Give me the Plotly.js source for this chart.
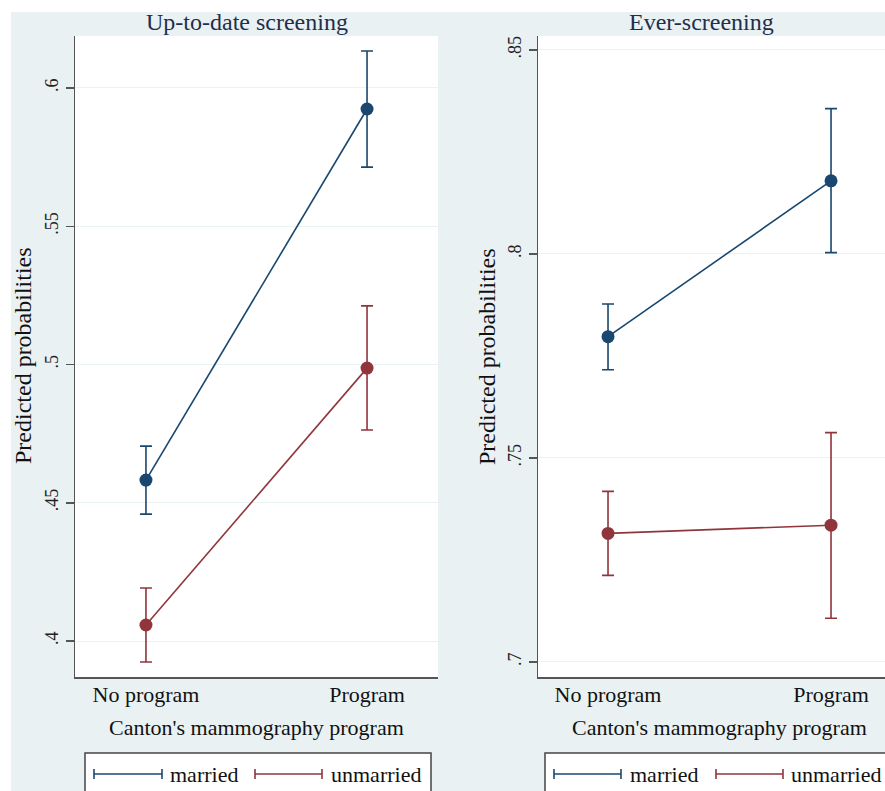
<!DOCTYPE html>
<html>
<head>
<meta charset="utf-8">
<script src="https://cdn.plot.ly/plotly-3.0.1.min.js"></script>
<style>html,body{margin:0;padding:0;background:#fff;}#chart{width:885px;height:791px;}</style>
</head>
<body>
<div id="chart"></div>
<script>
// ---- data ----
const categories = ['No program', 'Program'];
const seriesNames = ['married', 'unmarried'];

// Up-to-date screening
const upMarried      = [0.4582, 0.5924];
const upMarriedLo    = [0.4459, 0.5714];
const upMarriedHi    = [0.4705, 0.6134];
const upUnmarried    = [0.4058, 0.4987];
const upUnmarriedLo  = [0.3924, 0.4763];
const upUnmarriedHi  = [0.4192, 0.5212];

// Ever-screening
const evMarried      = [0.7797, 0.8179];
const evMarriedLo    = [0.7716, 0.8003];
const evMarriedHi    = [0.7877, 0.8356];
const evUnmarried    = [0.7315, 0.7335];
const evUnmarriedLo  = [0.7212, 0.7107];
const evUnmarriedHi  = [0.7418, 0.7562];

const upTickVals = [0.4, 0.45, 0.5, 0.55, 0.6];
const upTickText = ['.4', '.45', '.5', '.55', '.6'];
const evTickVals = [0.7, 0.75, 0.8, 0.85];
const evTickText = ['.7', '.75', '.8', '.85'];

const panelTitles = ['Up-to-date screening', 'Ever-screening'];
const yTitle = 'Predicted probabilities';
const xTitle = "Canton's mammography program";

// ---- styling ----
const W = 885, H = 791;
const BLUE = '#1a476f', RED = '#90353b';
const BAND = '#e9f1f3';
const FONT = 'Liberation Serif, Times New Roman, serif';
const px = v => v / W;
const py = v => 1 - v / H;

function trace(vals, lo, hi, color, xa, ya, name) {
  return {
    type: 'scatter', mode: 'lines+markers', name: name,
    x: categories, y: vals, xaxis: xa, yaxis: ya,
    line: {color: color, width: 1.6},
    marker: {color: color, size: 13, symbol: 'circle'},
    error_y: {type: 'data', symmetric: false,
      array: hi.map((h, i) => h - vals[i]),
      arrayminus: lo.map((l, i) => vals[i] - l),
      color: color, thickness: 1.6, width: 6},
    showlegend: false
  };
}

const data = [
  trace(upMarried, upMarriedLo, upMarriedHi, BLUE, 'x', 'y', seriesNames[0]),
  trace(upUnmarried, upUnmarriedLo, upUnmarriedHi, RED, 'x', 'y', seriesNames[1]),
  trace(evMarried, evMarriedLo, evMarriedHi, BLUE, 'x2', 'y2', seriesNames[0]),
  trace(evUnmarried, evUnmarriedLo, evUnmarriedHi, RED, 'x2', 'y2', seriesNames[1])
];

const xCommon = {
  type: 'category', showgrid: false, zeroline: false,
  showline: true, linecolor: '#555', linewidth: 1.5,
  ticks: '', tickfont: {family: FONT, size: 22, color: '#111'},
  ticklabelstandoff: -3, fixedrange: true
};
const yCommon = {
  showgrid: true, gridcolor: '#eaf2f4', gridwidth: 1, zeroline: false,
  showline: true, linecolor: '#555', linewidth: 1.5,
  ticks: 'outside', ticklen: 8, tickwidth: 1.5, tickcolor: '#555',
  tickangle: -90, tickmode: 'array',
  tickfont: {family: FONT, size: 18, color: '#222'}, fixedrange: true
};

const yDom = [py(677), py(36)];

const layout = {
  width: W, height: H,
  margin: {l: 0, r: 0, t: 0, b: 0},
  paper_bgcolor: BAND, plot_bgcolor: '#ffffff',
  showlegend: false,
  xaxis: Object.assign({}, xCommon, {domain: [px(75), px(438)], range: [-0.321, 1.321], anchor: 'y'}),
  yaxis: Object.assign({}, yCommon, {domain: yDom, range: [0.387, 0.6188], tickvals: upTickVals, ticktext: upTickText, anchor: 'x'}),
  xaxis2: Object.assign({}, xCommon, {domain: [px(538), 1], range: [-0.314, 1.242], anchor: 'y2'}),
  yaxis2: Object.assign({}, yCommon, {domain: yDom, range: [0.6963, 0.8534], tickvals: evTickVals, ticktext: evTickText, anchor: 'x2'}),
  shapes: [],
  annotations: []
};

// white margins outside the Stata graph region
layout.shapes.push({type: 'rect', xref: 'paper', yref: 'paper', x0: 0, x1: 1, y0: py(12), y1: 1, fillcolor: '#fff', line: {width: 0}, layer: 'below'});
layout.shapes.push({type: 'rect', xref: 'paper', yref: 'paper', x0: 0, x1: px(11), y0: 0, y1: 1, fillcolor: '#fff', line: {width: 0}, layer: 'below'});

// titles
const titleX = [247, 701];
panelTitles.forEach((t, i) => layout.annotations.push({
  text: t, xref: 'paper', yref: 'paper', x: px(titleX[i]), y: py(22),
  xanchor: 'center', yanchor: 'middle', showarrow: false,
  font: {family: FONT, size: 24, color: '#1e2f4d'}
}));
// y titles
[23, 487].forEach(xx => layout.annotations.push({
  text: yTitle, xref: 'paper', yref: 'paper', x: px(xx), y: py(356),
  xanchor: 'center', yanchor: 'middle', showarrow: false, textangle: -90,
  font: {family: FONT, size: 24, color: '#111'}
}));
// x titles
[256, 719].forEach(xx => layout.annotations.push({
  text: xTitle, xref: 'paper', yref: 'paper', x: px(xx), y: py(727),
  xanchor: 'center', yanchor: 'middle', showarrow: false,
  font: {family: FONT, size: 22, color: '#111'}
}));

// legends
const legends = [
  {box: [85, 431], items: [[94, 162, 168], [255, 322, 329]]},
  {box: [545, 900], items: [[554, 621, 628], [716, 783, 789]]}
];
const legColors = [BLUE, RED];
legends.forEach(lg => {
  layout.shapes.push({type: 'rect', xref: 'paper', yref: 'paper',
    x0: px(lg.box[0]), x1: px(lg.box[1]), y0: py(800), y1: py(753),
    fillcolor: '#fff', line: {color: '#444', width: 1.5}});
  lg.items.forEach((it, k) => {
    const c = legColors[k], ly = 774;
    layout.shapes.push({type: 'line', xref: 'paper', yref: 'paper', x0: px(it[0]), x1: px(it[1]), y0: py(ly), y1: py(ly), line: {color: c, width: 1.6}});
    layout.shapes.push({type: 'line', xref: 'paper', yref: 'paper', x0: px(it[0]), x1: px(it[0]), y0: py(ly - 5), y1: py(ly + 5), line: {color: c, width: 1.6}});
    layout.shapes.push({type: 'line', xref: 'paper', yref: 'paper', x0: px(it[1]), x1: px(it[1]), y0: py(ly - 5), y1: py(ly + 5), line: {color: c, width: 1.6}});
    layout.annotations.push({text: seriesNames[k], xref: 'paper', yref: 'paper',
      x: px(it[2]), y: py(ly), xanchor: 'left', yanchor: 'middle', showarrow: false,
      font: {family: FONT, size: 22, color: '#111'}});
  });
});

Plotly.newPlot('chart', data, layout, {displayModeBar: false, staticPlot: true});
</script>
</body>
</html>
